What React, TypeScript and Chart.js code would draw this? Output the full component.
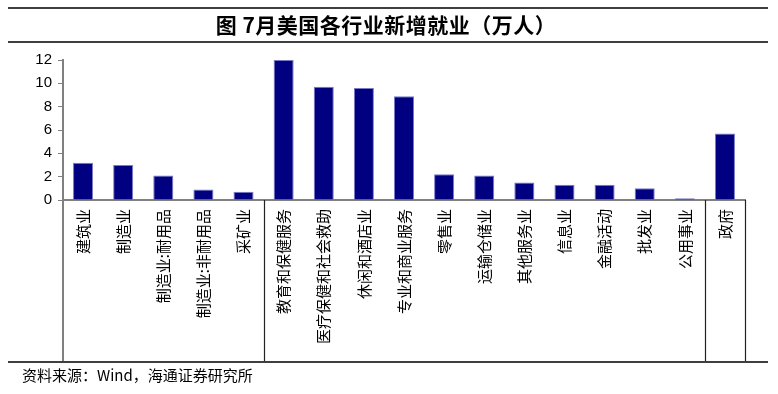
import React, { useEffect, useRef } from "react";
import { Chart, registerables } from "chart.js";

Chart.register(...registerables);

const categories = [
  "建筑业",
  "制造业",
  "制造业:耐用品",
  "制造业:非耐用品",
  "采矿业",
  "教育和保健服务",
  "医疗保健和社会救助",
  "休闲和酒店业",
  "专业和商业服务",
  "零售业",
  "运输仓储业",
  "其他服务业",
  "信息业",
  "金融活动",
  "批发业",
  "公用事业",
  "政府",
];
const values = [3.2, 3.0, 2.1, 0.9, 0.7, 12.0, 9.7, 9.6, 8.9, 2.2, 2.1, 1.5, 1.3, 1.3, 1.0, 0.15, 5.7];
const yMin = 0;
const yMax = 12;
const yStep = 2;
const groupBreaks = [5, 16, 17];
const titleText = "图 7月美国各行业新增就业（万人）";
const sourceText = "资料来源：Wind，海通证券研究所";

const extrasPlugin = {
  id: "extras",
  afterDraw(chart: any) {
    const { ctx } = chart;
    const xs = chart.scales.x;
    const ys = chart.scales.y;
    const bottomY = 362;
    ctx.save();
    // title rules
    ctx.strokeStyle = "#000";
    ctx.lineWidth = 1.5;
    ctx.beginPath();
    ctx.moveTo(8, 8);
    ctx.lineTo(768, 8);
    ctx.moveTo(8, 42);
    ctx.lineTo(768, 42);
    ctx.moveTo(8, bottomY);
    ctx.lineTo(768, bottomY);
    ctx.stroke();
    // title
    ctx.fillStyle = "#000";
    ctx.font = 'bold 21px "Noto Sans CJK SC"';
    ctx.textAlign = "center";
    ctx.textBaseline = "middle";
    try {
      (ctx as any).letterSpacing = "0.5px";
    } catch (e) {}
    ctx.fillText(titleText, 386, 25);
    try {
      (ctx as any).letterSpacing = "0px";
    } catch (e) {}
    // source
    ctx.font = '15px "Noto Sans CJK SC"';
    ctx.textAlign = "left";
    ctx.fillText(sourceText, 22, 375);
    // left axis extension
    const y0 = ys.getPixelForValue(0);
    ctx.strokeStyle = "#808080";
    ctx.lineWidth = 2;
    ctx.beginPath();
    ctx.moveTo(xs.left, y0);
    ctx.lineTo(xs.left, bottomY - 1);
    ctx.stroke();
    // group separators
    const w = (xs.right - xs.left) / categories.length;
    ctx.strokeStyle = "#222";
    ctx.lineWidth = 1.2;
    ctx.beginPath();
    groupBreaks.forEach((b) => {
      const x = Math.round(xs.left + b * w) + 0.5;
      ctx.moveTo(x, y0);
      ctx.lineTo(x, bottomY - 1);
    });
    ctx.stroke();
    ctx.restore();
  },
};

export default function App() {
  const ref = useRef<HTMLCanvasElement | null>(null);
  useEffect(() => {
    if (!ref.current) return;
    const chart = new Chart(ref.current, {
      type: "bar",
      data: {
        labels: categories,
        datasets: [
          {
            data: values,
            backgroundColor: "#000080",
            borderColor: "#7a7ac8",
            borderWidth: 1,
            barPercentage: 0.5,
            categoryPercentage: 1.0,
          },
        ],
      },
      options: {
        responsive: false,
        animation: false,
        devicePixelRatio: 1,
        layout: { padding: { top: 60, right: 33, bottom: 34, left: 0 } },
        plugins: {
          legend: { display: false },
          tooltip: { enabled: false },
          title: { display: false },
        },
        scales: {
          x: {
            grid: { display: false, drawTicks: false },
            border: { display: true, color: "#808080", width: 2 },
            ticks: {
              autoSkip: false,
              maxRotation: 90,
              minRotation: 90,
              padding: 9,
              color: "#000",
              font: { family: '"Noto Sans CJK SC"', size: 15 },
            },
            afterFit: (s: any) => {
              s.height = 160;
            },
          },
          y: {
            min: yMin,
            max: yMax,
            grid: { display: true, drawOnChartArea: false, drawTicks: true, tickLength: 5, color: "#808080", lineWidth: 1 },
            border: { display: true, color: "#808080", width: 2 },
            ticks: {
              stepSize: yStep,
              padding: 6,
              color: "#000",
              font: { family: '"Liberation Sans"', size: 15 },
            },
            afterFit: (s: any) => {
              s.width = 63;
            },
          },
        },
      },
      plugins: [extrasPlugin],
    });
    return () => chart.destroy();
  }, []);
  return (
    <div style={{ position: "fixed", left: 0, top: 0, width: 778, height: 394, background: "#fff" }}>
      <canvas ref={ref} width={778} height={394} />
    </div>
  );
}
